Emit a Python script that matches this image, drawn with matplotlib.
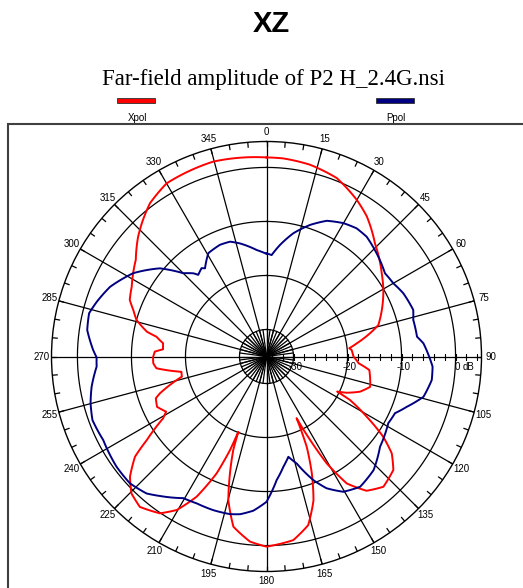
import numpy as np
import matplotlib.pyplot as plt
from matplotlib.patches import Rectangle

# far-field amplitude, dB vs angle (deg, clockwise from top)
xpol_deg = [0, 4.8, 12.8, 21.5, 30, 35.6, 43.8, 54.2, 60.3, 74.3, 77.4, 81.7, 84.3,
            85.6, 90, 94.2, 97.5, 106.3, 110.6, 114.3, 116.4, 117.5, 121, 124.5,
            127.7, 131.8, 138.1, 143.3, 147.7, 150.6, 153.4, 154.0, 156, 158.8,
            161.9, 166.1, 171.7, 180, 185.1, 191, 194.9, 197.4, 199.6, 200.5,
            201.3, 203.1, 206.5, 210.3, 214.2, 220.1, 224.6, 228.6, 232.7, 235.1,
            239.1, 241.2, 245.3, 249.3, 250.9, 256.6, 259.8, 263.9, 266.6, 269.6,
            272.5, 274, 277.3, 280.2, 281.7, 285.7, 289.2, 292.5, 297.4, 306.5,
            313, 317.9, 322.8, 330, 344.7, 360]
xpol_db = [1.85, 1.8, 1.4, 0.5, -1.55, -3.1, -6.0, -8.7, -10.1, -13.5, -15.4, -18.1, -19.6,
           -19.2, -18.9, -17.9, -15.8, -15.0, -16.5, -18.7, -20.4, -17.6, -13.35, -8.8,
           -5.7, -3.5, -2.6, -4.0, -7.2, -12.3, -20.5, -22.3, -16.7, -11.8,
           -7.0, -2.85, -0.65, 0.2, -0.6, -2.9, -7.5, -12.4, -16.7, -20.1,
           -16.4, -11.5, -6.0, -2.1, 0.1, 1.4, 0.6, -1.3, -4.4, -8.0,
           -12.7, -13.8, -12.7, -13.1, -14.1, -18.9, -19.0, -14.5, -14.0, -14.0,
           -14.3, -15.8, -15.7, -14.3, -12.4, -10.0, -8.9, -7.6, -6.9, -4.9,
           -2.5, -0.9, 0.65, 2.0, 2.4, 1.85]

ppol_deg = [0, 2.9, 6.9, 12.3, 18.3, 24, 30, 35.1, 39.9, 48.2, 54.9, 60, 65.2, 72.4,
            76, 82.5, 85.2, 90, 93.5, 98.1, 104.4, 109.7, 113.8, 118.7, 128.5,
            136.7, 144.3, 150.4, 155.5, 159.2, 164.2, 167.7, 171.3, 175.3, 180,
            184.9, 189.5, 193, 199.1, 205.4, 210.4, 217.4, 221.2, 227.1, 233.7,
            242.9, 249.9, 255.1, 260.2, 266.6, 269.7, 272.1, 278.4, 283.7, 287.9,
            294, 302, 309.6, 315, 318.7, 320.1, 323.7, 325.1, 330.6, 337.4, 342.4,
            346.8, 354.7, 360]
ppol_db = [-15.9, -16.2, -14.2, -11.65, -9.35, -7.5, -6.5, -6.0, -6.1, -7.25, -8.2, -7.9, -7.1, -6.5,
           -7.0, -6.9, -5.85, -4.9, -4.2, -4.1, -5.0, -7.4, -9.0, -9.3, -8.15,
           -6.1, -5.3, -6.2, -8.2, -10.5, -14.4, -16.0, -14.35, -12.05, -8.1,
           -6.35, -5.4, -5.05, -4.9, -4.9, -4.6, -2.5, -1.3, -0.5, -0.55,
           -1.05, -0.7, -1.3, -2.15, -3.5, -3.55, -2.9, -1.45, -1.2, -2.0,
           -3.3, -5.9, -9.4, -13.2, -14.5, -15.3, -14.7, -15.1, -13.05, -12.6, -12.7,
           -13.5, -15.2, -16.0]

ring_db = [-30, -20, -10, 0]
r_min, r_max = -35, 4.8
angle_labels = [str(a) for a in range(0, 360, 15)]

W, H = 523, 588
fig = plt.figure(figsize=(W / 100, H / 100), dpi=100)


def fx(x, y):
    return x / W, 1 - y / H


# frame round the plot
fig.patches.append(Rectangle(fx(8, 700), 600 / W, (700 - 123.5) / H, transform=fig.transFigure,
                             fill=False, ec='#404040', lw=1.5))

fig.text(*fx(271, 24), 'XZ', ha='center', va='center', fontsize=21, fontweight='bold',
         family='Liberation Sans')
fig.text(*fx(273, 80), 'Far-field amplitude of P2 H_2.4G.nsi', ha='center', va='center',
         fontsize=16.5, family='Liberation Serif')

# legend
for x0, col, name in [(117, 'red', 'Xpol'), (376, '#000080', 'Ppol')]:
    fig.patches.append(Rectangle(fx(x0, 103), 38 / W, 5 / H, transform=fig.transFigure,
                                 fc=col, ec='#303030', lw=0.6))
    fig.text(*fx(x0 + 20, 118), name, ha='center', va='center', fontsize=7,
             family='Liberation Sans')

cx, cy, R = 266.5, 356.5, 215
ax = fig.add_axes([(cx - R) / W, 1 - (cy + R) / H, 2 * R / W, 2 * R / H], projection='polar')
ax.set_theta_zero_location('N')
ax.set_theta_direction(-1)
ax.set_ylim(r_min, r_max)
ax.grid(False)
ax.set_xticks([])
ax.set_yticks([])
ax.spines['polar'].set_linewidth(1.0)

th = np.linspace(0, 2 * np.pi, 361)
for r in ring_db:
    ax.plot(th, np.full_like(th, r), color='black', lw=0.9)

# spokes
for a in range(0, 360, 15):
    t = np.radians(a)
    ax.plot([t, t], [r_min, r_max], color='black', lw=0.9)
    ax.text(t, 6.6, angle_labels[a // 15], ha='center', va='center', fontsize=7,
            family='Liberation Sans')
for a in np.arange(0, 360, 7.5):
    t = np.radians(a)
    ax.plot([t, t], [r_min, -30], color='black', lw=0.9)
for a in range(0, 360, 5):
    t = np.radians(a)
    ax.plot([t, t], [r_max - 0.9, r_max], color='black', lw=0.9)

# radial scale along the 90 deg line
tk = np.arange(-34, 5, 2)
ax.plot(np.full(len(tk), np.pi / 2), tk, ls='none', marker='|', ms=5, mew=0.8, color='black')
for r in ring_db:
    ax.annotate(str(r), (np.pi / 2, r), xytext=(2, -10), textcoords='offset pixels',
                ha='center', va='center', fontsize=7, family='Liberation Sans')
ax.annotate('dB', (np.pi / 2, 2.4), xytext=(0, -11), textcoords='offset pixels',
            ha='center', va='center', fontsize=7, family='Liberation Sans')

for deg, db, col in [(xpol_deg, xpol_db, '#ff0000'), (ppol_deg, ppol_db, '#000080')]:
    ln, = ax.plot(np.radians(deg), db, color=col, lw=1.4)
    # let the polar transform bend each segment instead of drawing chords
    ln.get_path()._interpolation_steps = 16

fig.savefig('out.png', dpi=100)
